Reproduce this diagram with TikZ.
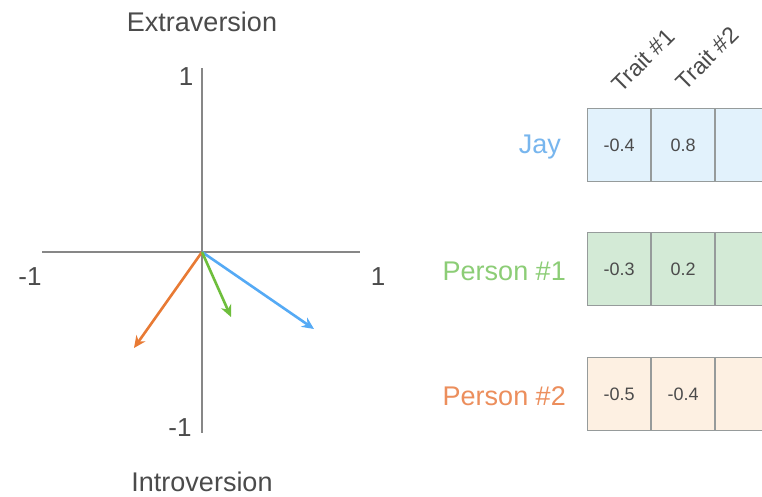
\documentclass[tikz,border=0pt]{standalone}
\usepackage{fontspec}
\setmainfont{Liberation Sans}
\usetikzlibrary{arrows.meta}
\definecolor{axisgray}{RGB}{135,135,135}
\definecolor{txtgray}{RGB}{75,75,75}
\definecolor{cellborder}{RGB}{150,155,155}
\definecolor{arrblue}{RGB}{85,170,245}
\definecolor{arrgreen}{RGB}{110,190,60}
\definecolor{arrorange}{RGB}{232,122,52}
\definecolor{txtblue}{RGB}{120,182,238}
\definecolor{txtgreen}{RGB}{140,205,118}
\definecolor{txtorange}{RGB}{236,142,92}
\definecolor{fillblue}{RGB}{226,242,252}
\definecolor{fillgreen}{RGB}{211,234,214}
\definecolor{fillorange}{RGB}{253,240,226}
\tikzset{
  axisline/.style={draw=axisgray, line width=1.4pt},
  vec/.style={line width=2.6pt, -{Stealth[length=12pt,width=11pt]}},
  biglabel/.style={text=txtgray, font=\fontsize{27}{30}\selectfont, inner sep=0pt},
  axnum/.style={text=txtgray, font=\fontsize{26}{29}\selectfont, inner sep=0pt},
  rowlabel/.style={font=\fontsize{27}{30}\selectfont, inner sep=0pt, anchor=east},
  cell/.style={draw=cellborder, line width=1.1pt, minimum width=63pt, minimum height=73pt, inner sep=0pt, text=txtgray, font=\fontsize{18}{20}\selectfont, anchor=west},
  traitlabel/.style={text=txtgray, font=\fontsize{23}{26}\selectfont, rotate=45, inner sep=0pt},
}
\begin{document}
\begin{tikzpicture}[x=1pt,y=-1pt]
\useasboundingbox (0,0) rectangle (762,496);
\clip (0,0) rectangle (762,496);
\fill[white] (0,0) rectangle (762,496);
% axes
\coordinate (O) at (202,252);
\coordinate (xl) at (42,252);
\coordinate (xr) at (360,252);
\coordinate (yt) at (202,68);
\coordinate (yb) at (202,433);
\draw[axisline] (xl) -- (xr);
\draw[axisline] (yt) -- (yb);
\node[biglabel] (extra) at (202,22) {Extraversion};
\node[biglabel] (intro) at (202,482) {Introversion};
\node[axnum] (ytop) at (186,77) {1};
\node[axnum] (ybot) at (180,428) {-1};
\node[axnum] (xleft) at (30,277) {-1};
\node[axnum] (xright) at (378,277) {1};
% vectors
\coordinate (jayv) at (314,329);
\coordinate (p1v) at (231,317);
\coordinate (p2v) at (134,348);
\draw[vec, arrorange] (O) -- (p2v);
\draw[vec, arrblue] (O) -- (jayv);
\draw[vec, arrgreen] (O) -- (p1v);
% trait labels
\node[traitlabel] (t1) at (643,60) {Trait \#1};
\node[traitlabel] (t2) at (707,58) {Trait \#2};
% Jay row
\node[rowlabel, text=txtblue] (jay) at (561,147) {Jay};
\node[cell, fill=fillblue] (j1) at (587,145) {-0.4};
\node[cell, fill=fillblue] (j2) at (j1.east) {0.8};
\node[cell, fill=fillblue] (j3) at (j2.east) {};
% Person 1 row
\node[rowlabel, text=txtgreen] (p1) at (566,271) {Person \#1};
\node[cell, fill=fillgreen] (a1) at (587,269) {-0.3};
\node[cell, fill=fillgreen] (a2) at (a1.east) {0.2};
\node[cell, fill=fillgreen] (a3) at (a2.east) {};
% Person 2 row
\node[rowlabel, text=txtorange] (p2) at (566,396) {Person \#2};
\node[cell, fill=fillorange] (b1) at (587,394) {-0.5};
\node[cell, fill=fillorange] (b2) at (b1.east) {-0.4};
\node[cell, fill=fillorange] (b3) at (b2.east) {};
\end{tikzpicture}
\end{document}
